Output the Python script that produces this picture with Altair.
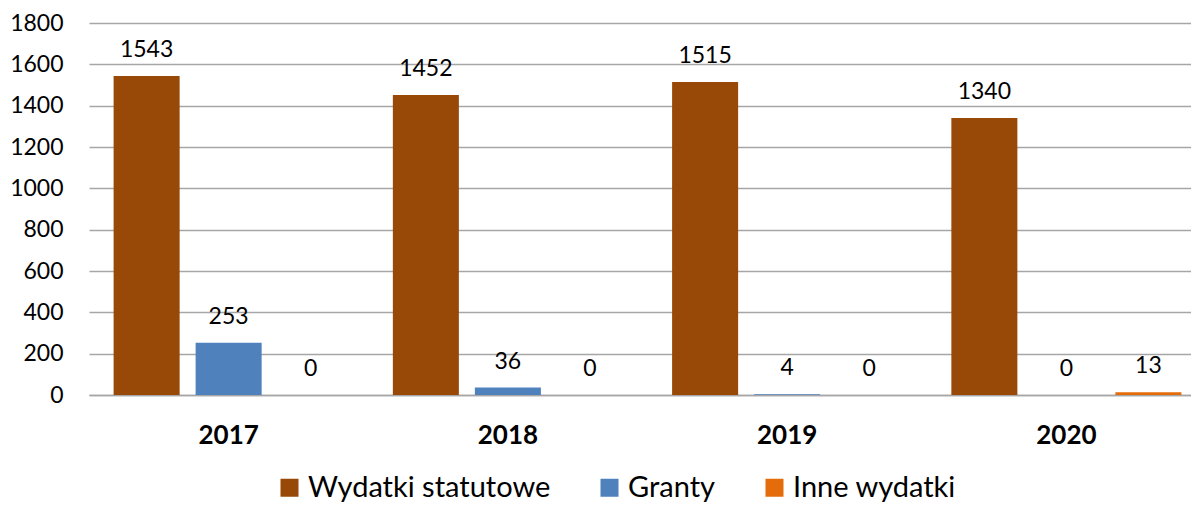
import altair as alt
import pandas as pd

years = ["2017", "2018", "2019", "2020"]
series = ["Wydatki statutowe", "Granty", "Inne wydatki"]
wydatki_statutowe = [1543, 1452, 1515, 1340]
granty = [253, 36, 4, 0]
inne_wydatki = [0, 0, 0, 13]
colors = ["#984807", "#4F81BD", "#E46C0A"]
y_ticks = [0, 200, 400, 600, 800, 1000, 1200, 1400, 1600, 1800]

rows = []
for s, vals in zip(series, [wydatki_statutowe, granty, inne_wydatki]):
    for y, v in zip(years, vals):
        rows.append({"rok": y, "seria": s, "wartosc": v})
df = pd.DataFrame(rows)

FONT = "Lato"

x = alt.X("rok:N", sort=years, title=None,
          scale=alt.Scale(paddingInner=0, paddingOuter=0, range=[0, 1117]),
          axis=alt.Axis(labelAngle=0, labelFont=FONT, labelFontSize=26,
                        labelFontWeight="bold", labelColor="#000000",
                        ticks=False, labelPadding=27, domainColor="#A6A6A6",
                        domainWidth=1.5))
xo = alt.XOffset("seria:N", sort=series,
                 scale=alt.Scale(paddingInner=0.195, paddingOuter=0.30))
y = alt.Y("wartosc:Q", title=None,
          scale=alt.Scale(domain=[0, 1800], nice=False),
          axis=alt.Axis(values=y_ticks, format="d", labelFont=FONT, labelFontSize=23,
                        labelColor="#000000", ticks=False, tickSize=0,
                        labelPadding=26, domain=False, gridColor="#A6A6A6",
                        gridWidth=1.5))
color = alt.Color("seria:N", sort=series,
                  scale=alt.Scale(domain=series, range=colors),
                  legend=alt.Legend(title=None, orient="none", direction="horizontal",
                                    columns=3, legendX=186, legendY=450,
                                    symbolType="square", symbolSize=324,
                                    symbolStrokeWidth=0, symbolOpacity=1,
                                    labelFont=FONT, labelFontSize=29,
                                    labelColor="#000000", labelOffset=4,
                                    columnPadding=44, padding=0,
                                    labelLimit=500))

bars = alt.Chart(df).mark_bar(opacity=1).encode(x=x, xOffset=xo, y=y, color=color)
labels = alt.Chart(df).mark_text(baseline="alphabetic", dy=-19, font=FONT,
                                 fontSize=23, color="#000000").encode(
    x=alt.X("rok:N", sort=years), xOffset=alt.XOffset("seria:N", sort=series),
    y="wartosc:Q", text="wartosc:Q")

chart = alt.layer(bars, labels).properties(
    width=1102, height=372,
    autosize=alt.AutoSizeParams(type="none"),
    padding={"left": 81, "top": 15, "right": 0, "bottom": 108},
).configure_view(stroke=None)

chart.save("out.html", embed_options={"renderer": "svg", "actions": False})
